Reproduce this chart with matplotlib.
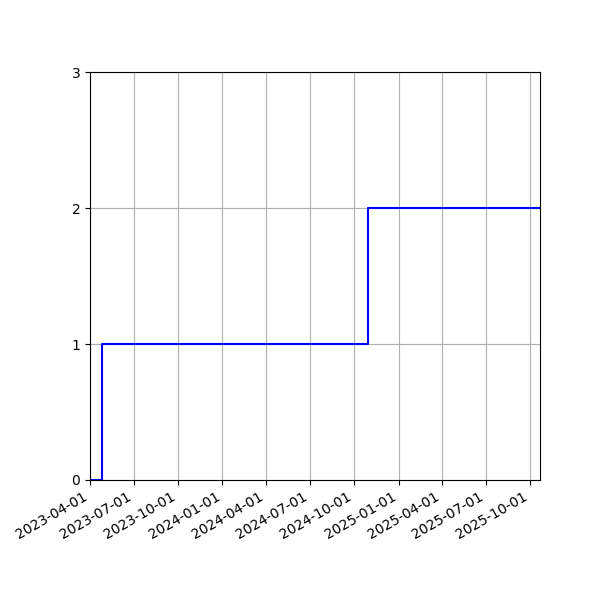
import numpy as np
import pandas as pd
import matplotlib
matplotlib.use('Agg')
import matplotlib.pyplot as plt
import matplotlib.dates as mdates

# cumulative count over time
dates = pd.to_datetime(['2023-04-01', '2023-04-25', '2024-10-29', '2025-10-22'])
counts = [0, 1, 2, 2]

fig, ax = plt.subplots(figsize=(6, 6), dpi=100)
ax.step(dates, counts, where='post', color='blue')
ax.set_xlim(dates[0], dates[-1])
ax.set_ylim(0, 3)
ax.set_yticks([0, 1, 2, 3])
ax.xaxis.set_major_locator(mdates.MonthLocator(bymonth=[1, 4, 7, 10]))
ax.xaxis.set_major_formatter(mdates.DateFormatter('%Y-%m-%d'))
ax.grid(True)
fig.autofmt_xdate()
fig.subplots_adjust(left=0.15, right=0.9, top=0.88, bottom=0.2)
fig.savefig('out.png')
